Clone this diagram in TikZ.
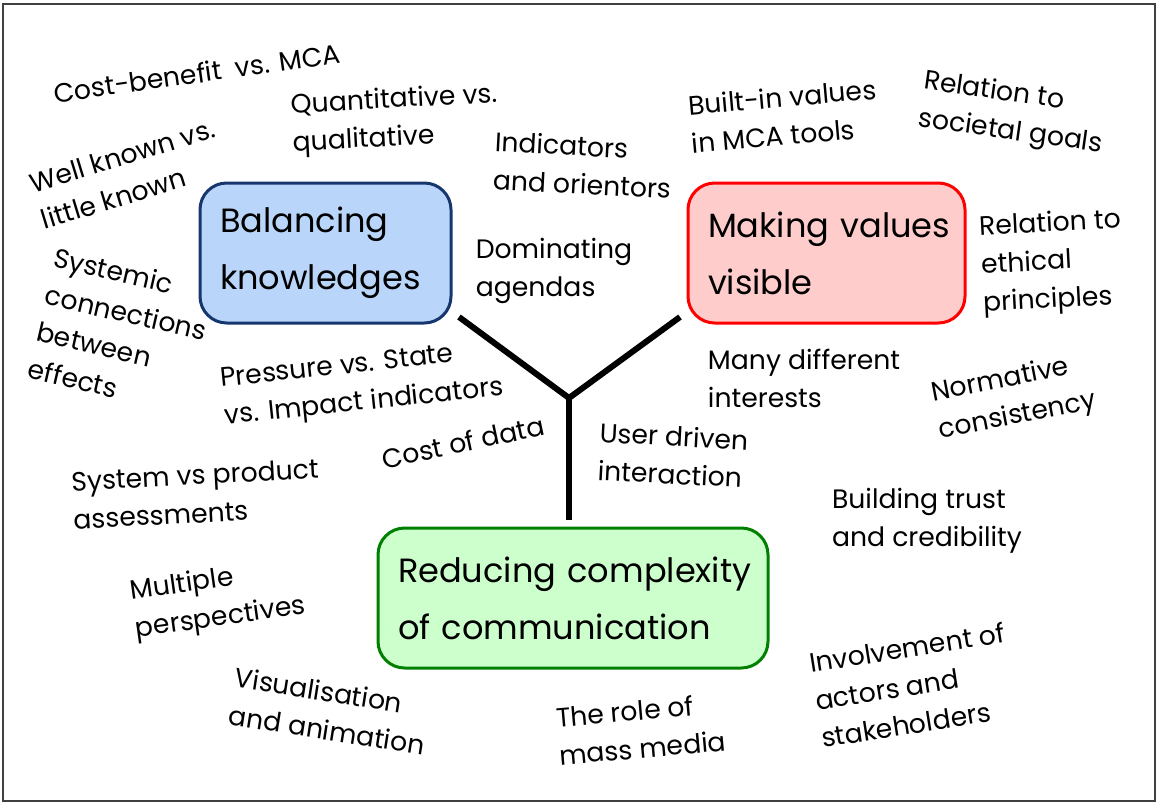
\documentclass[tikz,border=0pt]{standalone}
\usepackage{fontspec}
\setmainfont{Poppins}
\definecolor{bfill}{RGB}{185,214,250}
\definecolor{bbord}{RGB}{22,54,110}
\definecolor{rfill}{RGB}{255,204,204}
\definecolor{rbord}{RGB}{255,0,0}
\definecolor{gfill}{RGB}{204,255,204}
\definecolor{gbord}{RGB}{0,128,0}
\begin{document}
\begin{tikzpicture}[x=0.75pt,y=-0.75pt,
  lbl/.style={font=\fontsize{20}{28.5}\selectfont, align=left, inner sep=0pt},
  box/.style={rounded corners=20pt, line width=2.25pt, minimum height=105pt, align=left,
    font=\fontsize{25.2}{42.75}\selectfont, inner xsep=15pt, inner ysep=0pt},
  yline/.style={line width=4.5pt, black}]
\useasboundingbox (0,0) rectangle (1157,803);
\draw[line width=1.5pt, black!75] (3,4) rectangle (1155,801);

\node[box, draw=bbord, fill=bfill, text width=158.25pt] (kb) at (325.5,253) {\mbox{Balancing}\\\mbox{knowledges}};
\node[box, draw=rbord, fill=rfill, text width=177.75pt] (mv) at (826.5,253) {\mbox{Making values}\\\mbox{visible}};
\node[box, draw=gbord, fill=gfill, text width=262.5pt] (rc) at (573,598) {\mbox{Reducing complexity}\\\mbox{of communication}};

\coordinate (j) at (569,398);
\coordinate (e1) at (459,317);
\coordinate (e2) at (680,317);
\coordinate (e3) at (569,520);
\draw[yline] (e1) -- (j) -- (e2);
\draw[yline] (j) -- (e3);

\node[lbl, rotate=8] (cb) at (197,73) {Cost-benefit\ \ vs. MCA};
\node[lbl, rotate=3] (qq) at (395,120) {Quantitative vs.\\qualitative};
\node[lbl, rotate=17] (wk) at (128,174) {Well known vs.\\little known};
\node[lbl, rotate=-3] (io) at (583,165) {Indicators\\and orientors};
\node[lbl] (da) at (554,271) {Dominating\\agendas};
\node[lbl, rotate=5] (bv) at (784,116) {Built-in values\\in MCA tools};
\node[lbl, rotate=-8] (rs) at (1013,114) {Relation to\\societal goals};
\node[lbl, rotate=3] (re) at (1052,263) {Relation to\\ethical\\principles};
\node[lbl, rotate=-13] (sc) at (122,331) {Systemic\\connections\\between\\effects};
\node[lbl, rotate=6] (ps) at (362,385) {Pressure vs. State\\vs. Impact indicators};
\node[lbl, rotate=12] (cd) at (463,442) {Cost of data};
\node[lbl, rotate=3] (sp) at (196,494) {System vs product\\assessments};
\node[lbl, rotate=8] (mp) at (218,600) {Multiple\\perspectives};
\node[lbl, rotate=-9] (va) at (330,711) {Visualisation\\and animation};
\node[lbl, rotate=5] (rm) at (641,729) {The role of\\mass media};
\node[lbl, rotate=-3] (ud) at (673,455) {User driven\\interaction};
\node[lbl] (md) at (804,378) {Many different\\interests};
\node[lbl, rotate=11] (nc) at (1014,398) {Normative\\consistency};
\node[lbl] (bt) at (927,521) {Building trust\\and credibility};
\node[lbl, rotate=9] (ia) at (913,685) {Involvement of\\actors and\\stakeholders};
\end{tikzpicture}
\end{document}
